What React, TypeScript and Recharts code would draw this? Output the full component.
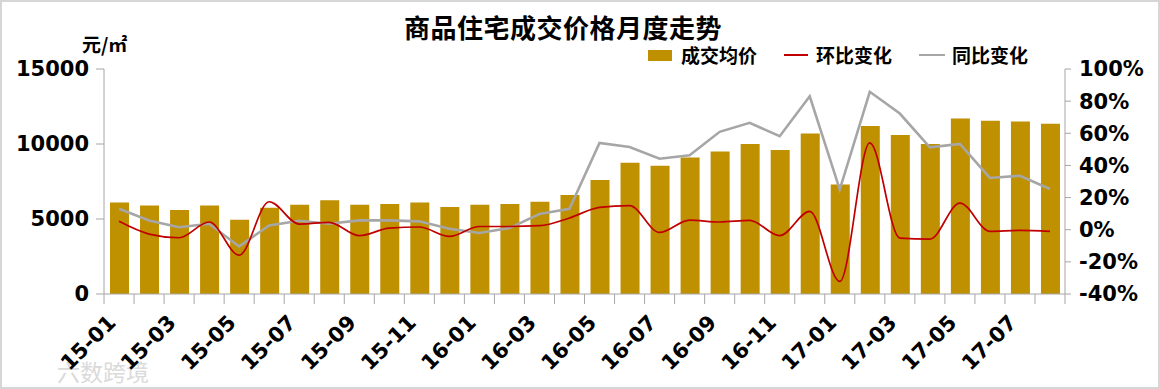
import React from "react";
import { Bar, CartesianGrid, ComposedChart, Line, XAxis, YAxis } from "recharts";

const months = [
  "15-01", "15-02", "15-03", "15-04", "15-05", "15-06", "15-07", "15-08",
  "15-09", "15-10", "15-11", "15-12", "16-01", "16-02", "16-03", "16-04",
  "16-05", "16-06", "16-07", "16-08", "16-09", "16-10", "16-11", "16-12",
  "17-01", "17-02", "17-03", "17-04", "17-05", "17-06", "17-07", "17-08",
];

// 成交均价 (元/㎡)
const avgPrice = [
  6100, 5900, 5600, 5900, 4950, 5750, 5950, 6250, 5950, 6000, 6100, 5800,
  5950, 6000, 6150, 6600, 7600, 8750, 8550, 9100, 9500, 10000, 9600, 10700,
  7300, 11200, 10600, 10000, 11700, 11550, 11500, 11350,
];

// 环比变化 (%)
const momChange = [
  5.2, -2.7, -5, 4.8, -15.8, 17.4, 3.5, 4.6, -3.7, 1, 1.7, -4.2,
  2, 2, 2.5, 7.3, 13.9, 15, -1.7, 6, 4.8, 5.8, -3.7, 11.4,
  -32.2, 54, -5.2, -5.8, 16.6, -1, -0.4, -1,
];

// 同比变化 (%)
const yoyChange = [
  13, 5.8, 1.5, 3.7, -10.4, 2.7, 5.6, 3.7, 5.8, 5.8, 5.2, 0.6,
  -2, 1, 9.8, 13, 54, 51.5, 44.2, 46.3, 60.9, 66.5, 58.2, 83,
  25, 85.8, 72.3, 51.3, 53.4, 32.2, 33.6, 25.3,
];

const priceTicks = [0, 5000, 10000, 15000];
const pctTicks = [-40, -20, 0, 20, 40, 60, 80, 100];

const data = months.map((m, i) => ({
  month: m,
  price: avgPrice[i],
  mom: momChange[i],
  yoy: yoyChange[i],
}));

const GOLD = "#BF9000";
const RED = "#C00000";
const GREY = "#A6A6A6";
const AXIS = "#A6A6A6";
const numFont = "'DejaVu Sans', sans-serif";
const cjkFont = "'Noto Sans CJK SC', sans-serif";

function MonthTick(props: any) {
  const { x, y, payload } = props;
  const i = months.indexOf(payload.value);
  const half = 15;
  const ax = x - 2;
  const ay = y + 30;
  return (
    <g>
      <line x1={x - half} x2={x - half} y1={y} y2={y + 10} stroke={AXIS} />
      {i === months.length - 1 && (
        <line x1={x + half} x2={x + half} y1={y} y2={y + 10} stroke={AXIS} />
      )}
      {i % 2 === 0 && (
        <text
          x={ax}
          y={ay}
          textAnchor="end"
          transform={`rotate(-45 ${ax} ${ay})`}
          fontFamily={numFont}
          fontWeight="bold"
          fontSize={21}
          fill="#000"
        >
          {payload.value}
        </text>
      )}
    </g>
  );
}

const tickStyle = {
  fontFamily: numFont,
  fontWeight: "bold",
  fontSize: 21,
  fill: "#000",
};

const legendText: React.CSSProperties = {
  position: "absolute",
  top: 45,
  lineHeight: "20px",
  fontFamily: cjkFont,
  fontWeight: 700,
  fontSize: 19,
  color: "#000",
  whiteSpace: "nowrap",
};

export default function App() {
  return (
    <div
      style={{
        position: "absolute",
        left: 0,
        top: 0,
        width: 1160,
        height: 389,
        background: "#fff",
        overflow: "hidden",
      }}
    >
      <div
        style={{
          position: "absolute",
          left: 0,
          width: 1126,
          top: 11,
          textAlign: "center",
          fontFamily: cjkFont,
          fontWeight: 700,
          fontSize: 26,
          lineHeight: "32px",
          letterSpacing: 0.5,
          color: "#000",
        }}
      >
        商品住宅成交价格月度走势
      </div>
      <div style={{ ...legendText, left: 82, top: 34 }}>元/㎡</div>

      <div style={{ position: "absolute", left: 648, top: 50, width: 24, height: 11, background: GOLD }} />
      <div style={{ ...legendText, left: 681 }}>成交均价</div>
      <div style={{ position: "absolute", left: 784, top: 54, width: 24, height: 2, background: RED }} />
      <div style={{ ...legendText, left: 816 }}>环比变化</div>
      <div style={{ position: "absolute", left: 919, top: 54, width: 26, height: 2, background: GREY }} />
      <div style={{ ...legendText, left: 952 }}>同比变化</div>

      <div
        style={{
          position: "absolute",
          left: 57,
          top: 354,
          fontFamily: cjkFont,
          fontSize: 23,
          color: "#dadada",
          whiteSpace: "nowrap",
        }}
      >
        六数跨境
      </div>

      <ComposedChart
        width={1160}
        height={389}
        data={data}
        margin={{ top: 69, right: 0, bottom: 0, left: 0 }}
        style={{ position: "absolute", left: 0, top: 0 }}
      >
        <CartesianGrid stroke="none" />
        <XAxis
          dataKey="month"
          interval={0}
          height={95}
          tickSize={0}
          tickMargin={0}
          tickLine={false}
          axisLine={{ stroke: AXIS }}
          tick={(p: any) => <MonthTick {...p} />}
        />
        <YAxis
          yAxisId="price"
          width={104}
          domain={[0, 15000]}
          ticks={priceTicks}
          interval={0}
          tickSize={8}
          tickMargin={7}
          axisLine={{ stroke: AXIS }}
          tickLine={{ stroke: AXIS }}
          tick={tickStyle}
        />
        <YAxis
          yAxisId="pct"
          orientation="right"
          width={95}
          domain={[-40, 100]}
          ticks={pctTicks}
          interval={0}
          tickSize={6}
          tickMargin={8}
          axisLine={{ stroke: AXIS }}
          tickLine={{ stroke: AXIS }}
          tick={{ ...tickStyle, textAnchor: "start" }}
          tickFormatter={(v: number) => `${v}%`}
        />
        <Bar
          yAxisId="price"
          dataKey="price"
          fill={GOLD}
          barSize={19}
          isAnimationActive={false}
        />
        <Line
          yAxisId="pct"
          dataKey="yoy"
          type="linear"
          stroke={GREY}
          strokeWidth={2.6}
          dot={false}
          activeDot={false}
          isAnimationActive={false}
        />
        <Line
          yAxisId="pct"
          dataKey="mom"
          type="monotone"
          stroke={RED}
          strokeWidth={1.7}
          dot={false}
          activeDot={false}
          isAnimationActive={false}
        />
      </ComposedChart>

      <div
        style={{
          position: "absolute",
          inset: 0,
          border: "2px solid #d6d6d6",
          pointerEvents: "none",
        }}
      />
    </div>
  );
}
